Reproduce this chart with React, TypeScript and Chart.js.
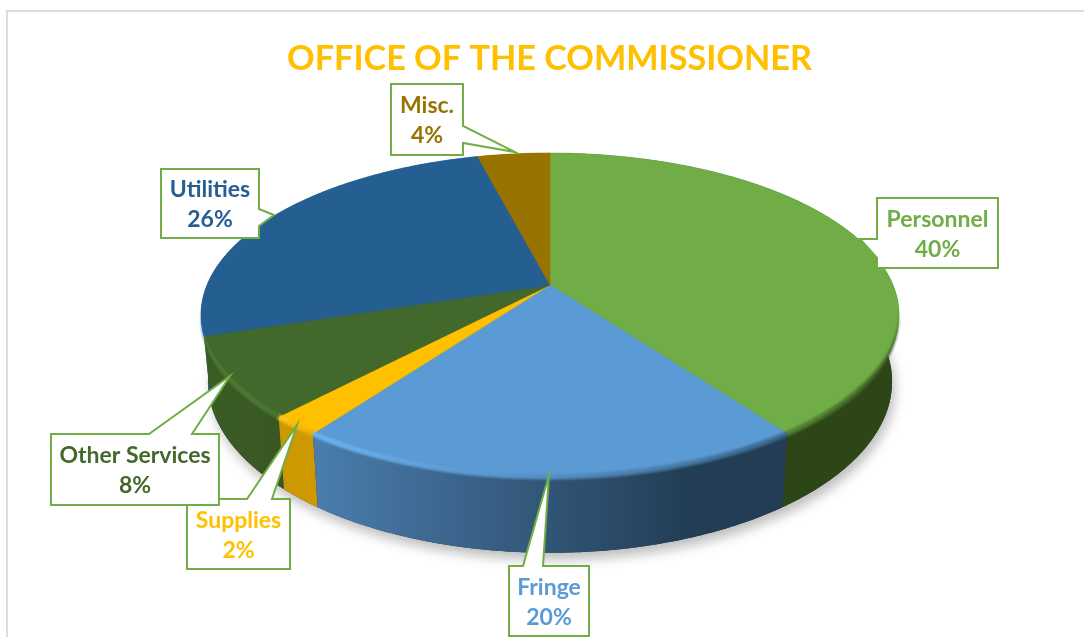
import React, { useEffect, useRef } from "react";
import { Chart, registerables } from "chart.js";

Chart.register(...registerables);

const categories = ["Personnel", "Fringe", "Supplies", "Other Services", "Utilities", "Misc."];
const shares = [40, 20, 2, 8, 26, 4];
const faceColors = ["#70AD47", "#5B9BD5", "#FFC000", "#43682B", "#255E91", "#997300"];
const wallLeftColors = ["#2D4618", "#4A7DAD", "#CC9A00", "#3B5C25", "#2A6BA6", "#7A5C00"];
const wallRightColors = ["#2D4618", "#223D55", "#CC9A00", "#395723", "#255E91", "#7A5C00"];
const rimLeftColors = ["#527F34", "#70B6F8", "#FFCB26", "#50803A", "#2E72AE", "#997300"];
const rimRightColors = ["#3C5E25", "#3A6589", "#E6AD00", "#4C7833", "#2A6AA3", "#997300"];
const titleText = "OFFICE OF THE COMMISSIONER";
const titleColor = "#FFC000";
const calloutBorder = "#70AD47";

// Perspective of the pie disc on the page
const view = { cx: 550, cy: 285, radius: 343, tiltY: 156.4, persp: 0.185, depth: 65, lowerScale: 0.98 };

type Side = "left" | "right" | "top";
// Order = paint order. Box rectangle and pointer for each callout, indexed to categories.
const callouts: { i: number; x: number; y: number; w: number; h: number; side: Side; tail: number[][] }[] = [
  { i: 0, x: 877, y: 198, w: 121, h: 70, side: "left", tail: [[877, 258], [860, 239], [877, 239]] },
  { i: 5, x: 391, y: 84, w: 72, h: 71, side: "right", tail: [[463, 126], [515, 152], [463, 143]] },
  { i: 4, x: 161, y: 169, w: 98, h: 69, side: "right", tail: [[259, 209], [274, 215], [259, 226]] },
  { i: 2, x: 187, y: 499, w: 103, h: 70, side: "top", tail: [[247, 499], [297, 425], [272, 499]] },
  { i: 3, x: 51, y: 434, w: 168, h: 71, side: "top", tail: [[149, 434], [230, 376], [192, 434]] },
  { i: 1, x: 509, y: 566, w: 80, h: 70, side: "top", tail: [[523, 566], [549, 475], [543, 566]] },
];

const LABEL_FONT = 'bold 23px Lato, "Open Sans", sans-serif';

function topPoint(a: number) {
  const u = Math.cos(a), v = Math.sin(a), w = 1 - view.persp * v;
  return [view.cx + (view.radius * u) / w, view.cy + (view.tiltY * v) / w];
}
function lowPoint(a: number) {
  const u = Math.cos(a), v = Math.sin(a), w = 1 - view.persp * v;
  return [
    view.cx + ((view.radius * u) / w) * view.lowerScale,
    view.cy + ((view.tiltY * v) / w) * view.lowerScale + view.depth / w,
  ];
}
function samples(a0: number, a1: number) {
  const n = Math.max(2, Math.ceil(Math.abs(a1 - a0) / 0.01));
  const out: number[] = [];
  for (let k = 0; k <= n; k++) out.push(a0 + ((a1 - a0) * k) / n);
  return out;
}
function trace(ctx: CanvasRenderingContext2D, pts: number[][]) {
  pts.forEach((p, k) => (k ? ctx.lineTo(p[0], p[1]) : ctx.moveTo(p[0], p[1])));
}

const pie3d = {
  id: "pie3d",
  beforeDatasetsDraw(chart: any) {
    const ctx: CanvasRenderingContext2D = chart.ctx;
    const arcs = chart.getDatasetMeta(0).data as any[];
    const full = Math.PI * 2;
    const visA = (100 * Math.PI) / 180 - Math.PI / 2;
    const visB = (260 * Math.PI) / 180 - Math.PI / 2;

    // soft shadow below the lower disc
    ctx.save();
    ctx.shadowColor = "rgba(0,0,0,0.26)";
    ctx.shadowBlur = 12;
    ctx.shadowOffsetY = 7;
    ctx.shadowOffsetX = 3;
    ctx.fillStyle = "#333";
    ctx.beginPath();
    trace(ctx, samples(0, full).map(lowPoint));
    ctx.closePath();
    ctx.fill();
    ctx.restore();

    // walls, far slices first
    const mid = (e: any) => Math.sin((e.startAngle + e.endAngle) / 2);
    const wallOrder = arcs.map((_, i) => i).sort((p, q) => mid(arcs[p]) - mid(arcs[q]));
    wallOrder.forEach((i: number) => {
      const e = arcs[i];
      const pts = samples(e.startAngle, e.endAngle);
      const xs = pts.map((a) => topPoint(a)[0]);
      const g = ctx.createLinearGradient(Math.min(...xs), 0, Math.max(...xs), 0);
      g.addColorStop(0, wallLeftColors[i]);
      g.addColorStop(i === 1 ? 0.8 : 1, wallRightColors[i]);
      g.addColorStop(1, wallRightColors[i]);
      ctx.fillStyle = g;
      ctx.beginPath();
      trace(ctx, pts.map(topPoint));
      [...pts].reverse().forEach((a) => {
        const p = lowPoint(a);
        ctx.lineTo(p[0], p[1]);
      });
      ctx.closePath();
      ctx.fill();
    });

    // top faces
    arcs.forEach((e, i) => {
      ctx.fillStyle = faceColors[i];
      ctx.strokeStyle = faceColors[i];
      ctx.lineWidth = 0.6;
      ctx.beginPath();
      ctx.moveTo(view.cx, view.cy);
      samples(e.startAngle, e.endAngle).forEach((a) => {
        const p = topPoint(a);
        ctx.lineTo(p[0], p[1]);
      });
      ctx.closePath();
      ctx.fill();
      ctx.stroke();
    });

    // bevel along the front of the rim, tapering out at the silhouette
    arcs.forEach((e, i) => {
      const a0 = Math.max(e.startAngle, visA);
      const a1 = Math.min(e.endAngle, visB);
      if (a1 <= a0) return;
      const pts = samples(a0, a1);
      const xs = pts.map((a) => topPoint(a)[0]);
      const g = ctx.createLinearGradient(Math.min(...xs), 0, Math.max(...xs), 0);
      g.addColorStop(0, rimLeftColors[i]);
      g.addColorStop(1, rimRightColors[i]);
      ctx.save();
      ctx.strokeStyle = g;
      ctx.lineCap = "butt";
      ctx.filter = "blur(1px)";
      for (let k = 0; k + 1 < pts.length; k++) {
        const edge = Math.min(pts[k] - visA, visB - pts[k]);
        ctx.lineWidth = Math.max(0.3, 5 * Math.min(1, edge / 0.45));
        ctx.beginPath();
        trace(ctx, [topPoint(pts[k]), topPoint(pts[k + 1] + 0.002)]);
        ctx.stroke();
      }
      ctx.restore();
    });
    return false;
  },
  afterDraw(chart: any) {
    const ctx: CanvasRenderingContext2D = chart.ctx;
    const values = chart.data.datasets[0].data as number[];
    callouts.forEach((c) => {
      const right = c.x + c.w, bottom = c.y + c.h;
      ctx.save();
      ctx.beginPath();
      ctx.moveTo(c.x, c.y);
      if (c.side === "top") c.tail.forEach((p) => ctx.lineTo(p[0], p[1]));
      ctx.lineTo(right, c.y);
      if (c.side === "right") c.tail.forEach((p) => ctx.lineTo(p[0], p[1]));
      ctx.lineTo(right, bottom);
      ctx.lineTo(c.x, bottom);
      if (c.side === "left") c.tail.forEach((p) => ctx.lineTo(p[0], p[1]));
      ctx.closePath();
      ctx.fillStyle = "#FFFFFF";
      ctx.fill();
      ctx.strokeStyle = calloutBorder;
      ctx.lineWidth = 2;
      ctx.lineJoin = "miter";
      ctx.stroke();
      ctx.fillStyle = faceColors[c.i];
      ctx.font = LABEL_FONT;
      ctx.textAlign = "center";
      ctx.textBaseline = "middle";
      const mx = c.x + c.w / 2, my = c.y + c.h / 2 + 1.5;
      ctx.fillText(chart.data.labels[c.i], mx, my - 15);
      ctx.fillText(`${values[c.i]}%`, mx, my + 15);
      ctx.restore();
    });
  },
};

export default function App() {
  const ref = useRef<HTMLCanvasElement>(null);
  useEffect(() => {
    const chart = new Chart(ref.current as HTMLCanvasElement, {
      type: "pie",
      data: {
        labels: categories,
        datasets: [{ data: shares, backgroundColor: faceColors, borderWidth: 0 }],
      },
      options: {
        responsive: false,
        animation: false,
        layout: { padding: { left: 15 } },
        plugins: {
          legend: { display: false },
          tooltip: { enabled: false },
          title: {
            display: true,
            text: titleText,
            color: titleColor,
            fullSize: false,
            font: { family: 'Lato, "Open Sans", sans-serif', size: 34.2, weight: "bold" },
            padding: { top: 38, bottom: 10 },
          },
        },
      },
      plugins: [pie3d],
    } as any);
    return () => chart.destroy();
  }, []);
  return (
    <div style={{ position: "fixed", left: 0, top: 0, width: 1084, height: 637, background: "#fff", overflow: "hidden" }}>
      <div
        style={{
          position: "absolute",
          left: 6,
          top: 10,
          right: -4,
          bottom: -4,
          borderLeft: "2px solid #DCDCDC",
          borderTop: "2px solid #DCDCDC",
        }}
      />
      <canvas ref={ref} width={1084} height={637} style={{ position: "absolute", left: 0, top: 0, display: "block" }} />
    </div>
  );
}
